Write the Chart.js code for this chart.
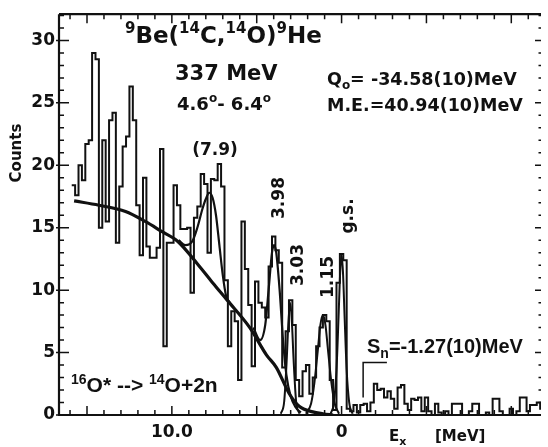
<!DOCTYPE html>
<html>
<head>
<meta charset="utf-8">
<script src="https://cdn.jsdelivr.net/npm/chart.js@4.4.1/dist/chart.umd.min.js"></script>
<style>
  html, body { margin: 0; padding: 0; background: #fff; }
  canvas { display: block; }
</style>
</head>
<body>
<canvas id="spectrum" width="548" height="447"></canvas>
<script>
// histogram: 0.2 MeV bins, first bin starts at Ex = 15.9 MeV, going down
const binStart = 15.9;
const binWidth = 0.2;
const counts = [
  18.4, 17.6, 20.0, 18.8, 21.7, 22.0, 29.0, 28.5, 15.0, 22.0,
  15.5, 23.6, 24.2, 13.8, 18.3, 21.5, 22.3, 26.3, 23.6, 16.8,
  12.8, 19.0, 13.5, 12.6, 12.6, 13.4, 21.3, 5.5, 13.8, 13.8,
  18.4, 16.8, 14.9, 14.9, 15.0, 9.8, 15.8, 16.7, 19.3, 18.5,
  13.0, 18.9, 18.8, 20.1, 18.3, 10.8, 5.5, 8.3, 7.5, 2.8,
  15.5, 11.7, 8.8, 3.9, 10.7, 9.0, 8.6, 7.8, 11.9, 14.3,
  13.2, 12.2, 3.8, 6.7, 9.2, 7.2, 2.8, 1.5, 3.5, 4.0,
  1.7, 3.0, 5.5, 7.0, 8.0, 7.5, 2.8, 0.4, 10.6, 12.9,
  12.4, 0.5, 0.3, 0.8, 0.2, 0.8, 0.9, 0.3, 1.0, 2.5,
  2.0, 2.1, 1.4, 1.9, 1.3, 0.5, 2.2, 2.4, 0.9, 0.4,
  1.3, 1.2, 1.4, 0.3, 1.4, 0.3, 0, 0.9, 0.2, 0,
  0.3, 0, 0.9, 0.9, 0.9, 0, 0, 0.3, 0.9, 0.9,
  0, 0, 0.2, 0, 1.3, 1.3, 0.3, 0, 0, 0.5,
  0, 0.3, 1.4, 1.4, 0.3, 0.8, 0.8, 1.0, 0.5
];

// 16O* -> 14O+2n background
const bgEx = [15.76, 14.3, 12.73, 11.57, 10.6, 9.65, 8.49, 7.6, 6.74, 5.41, 4.42, 3.84, 3.08, 2.5, 1.7, 1.1, 0.5];
const bgY = [17.15, 16.8, 16.3, 15.5, 14.7, 13.9, 12.1, 10.6, 9.2, 7.0, 4.8, 3.8, 1.7, 0.7, 0.25, 0.1, 0];

// fitted peaks
const fit79Ex = [9.6, 9.2, 8.8, 8.5, 8.2, 8.0, 7.8, 7.6, 7.4, 7.2, 7.0, 6.8, 6.6];
const fit79Y = [14.0, 13.6, 13.9, 15.0, 16.5, 17.3, 17.8, 17.4, 16.0, 13.6, 11.2, 9.5, 9.0];
const fit398Ex = [5.2, 4.8, 4.5, 4.3, 4.1, 3.98, 3.85, 3.65, 3.45, 3.25, 3.0, 2.7, 2.4];
const fit398Y = [7.0, 6.0, 7.2, 10.0, 13.0, 13.6, 13.0, 10.0, 6.0, 3.2, 1.5, 0.6, 0.2];
const fit303Ex = [3.58, 3.38, 3.23, 3.13, 3.03, 2.93, 2.83, 2.68, 2.48];
const fit303Y = [0.1, 1.1, 4.5, 7.5, 9.0, 7.5, 4.5, 1.1, 0.1];
const fit115Ex = [2.1, 1.8, 1.6, 1.4, 1.25, 1.1, 0.95, 0.8, 0.6, 0.4, 0.15];
const fit115Y = [0.1, 0.9, 2.6, 5.2, 7.2, 8.0, 7.2, 5.2, 2.6, 0.9, 0.1];
const fitGsEx = [0.65, 0.45, 0.3, 0.18, 0.08, 0, -0.08, -0.18, -0.3, -0.45, -0.65];
const fitGsY = [0.1, 1.0, 3.6, 7.8, 11.5, 12.8, 11.5, 7.8, 3.6, 1.0, 0.1];

const xLabels = { 10: '10.0', 0: '0' };
const yTicks = [0, 5, 10, 15, 20, 25, 30];
const snValue = -1.27;

const ink = '#111';
const bold = (size, family) => `bold ${size}px ${family || '"DejaVu Sans"'}`;

const histPoints = counts.map((c, i) => ({ x: binStart - i * binWidth, y: c }));
histPoints.push({ x: binStart - counts.length * binWidth, y: counts[counts.length - 1] });

const toPoints = (xs, ys) => xs.map((x, i) => ({ x, y: ys[i] }));
const curve = (xs, ys, width) => ({
  data: toPoints(xs, ys),
  borderColor: ink,
  borderWidth: width,
  pointRadius: 0,
  cubicInterpolationMode: 'monotone',
  fill: false
});

function drawParts(ctx, x, y, parts) {
  let cx = x;
  parts.forEach(([text, font, dy]) => {
    ctx.font = font;
    ctx.fillText(text, cx, y + (dy || 0));
    cx += ctx.measureText(text).width;
  });
}

function rotated(ctx, text, x, y, font) {
  ctx.save();
  ctx.translate(x, y);
  ctx.rotate(-Math.PI / 2);
  ctx.font = font;
  ctx.textAlign = 'center';
  ctx.textBaseline = 'middle';
  ctx.fillText(text, 0, 0);
  ctx.restore();
}

const framePlugin = {
  id: 'frame',
  afterDatasetsDraw(chart) {
    const { ctx, chartArea: a, scales: { x, y } } = chart;
    ctx.save();
    ctx.strokeStyle = ink;
    ctx.lineWidth = 2.2;
    ctx.beginPath();
    ctx.moveTo(a.left, a.top);
    ctx.lineTo(a.right, a.top);
    ctx.moveTo(a.left, a.top);
    ctx.lineTo(a.left, a.bottom);
    ctx.lineTo(a.right, a.bottom);
    ctx.stroke();

    ctx.lineWidth = 1.5;
    ctx.beginPath();
    for (let v = Math.ceil(x.min); v <= Math.floor(x.max); v++) {
      const px = x.getPixelForValue(v);
      const len = v % 5 === 0 ? 9 : 5;
      ctx.moveTo(px, a.bottom);
      ctx.lineTo(px, a.bottom - len);
      ctx.moveTo(px, a.top);
      ctx.lineTo(px, a.top + len);
    }
    for (let v = 0; v <= Math.floor(y.max); v++) {
      const py = y.getPixelForValue(v);
      const major = v % 5 === 0;
      ctx.moveTo(a.left - (major ? 3 : 0), py);
      ctx.lineTo(a.left + (major ? 10 : 5), py);
      ctx.moveTo(a.right, py);
      ctx.lineTo(a.right - (major ? 6 : 2.5), py);
    }
    ctx.stroke();

    // S_n threshold marker
    const sx = x.getPixelForValue(snValue);
    ctx.lineWidth = 1.5;
    ctx.beginPath();
    ctx.moveTo(sx, y.getPixelForValue(1.4));
    ctx.lineTo(sx, y.getPixelForValue(4.2));
    ctx.lineTo(x.getPixelForValue(-2.67), y.getPixelForValue(4.2));
    ctx.stroke();
    ctx.restore();
  },
  afterDraw(chart) {
    const { ctx } = chart;
    ctx.save();
    ctx.fillStyle = ink;
    ctx.textBaseline = 'alphabetic';

    const big = bold(23);
    const sup = bold(15);
    drawParts(ctx, 125, 43, [
      ['9', sup, -10], ['Be(', big], ['14', sup, -10], ['C,', big],
      ['14', sup, -10], ['O)', big], ['9', sup, -10], ['He', big]
    ]);
    drawParts(ctx, 175, 80, [['337 MeV', bold(21)]]);
    drawParts(ctx, 177, 110, [
      ['4.6', bold(18)], ['o', bold(12), -8], ['- 6.4', bold(18)], ['o', bold(12), -8]
    ]);
    drawParts(ctx, 327, 85, [
      ['Q', bold(17.5)], ['o', bold(12), 4], ['= -34.58(10)MeV', bold(17.5)]
    ]);
    drawParts(ctx, 327, 111, [['M.E.=40.94(10)MeV', bold(17.5)]]);

    ctx.textAlign = 'center';
    drawParts(ctx, 215, 155, [['(7.9)', bold(17)]]);
    ctx.textAlign = 'left';

    rotated(ctx, '3.98', 279.5, 198, bold(17));
    rotated(ctx, '3.03', 299, 265, bold(17));
    rotated(ctx, '1.15', 329, 277, bold(17));
    rotated(ctx, 'g.s.', 349, 216, bold(17));

    const arial = '"Liberation Sans", Arial';
    drawParts(ctx, 367, 353, [
      ['S', bold(20, arial)], ['n', bold(14, arial), 5], ['=-1.27(10)MeV', bold(20, arial)]
    ]);
    drawParts(ctx, 71, 392, [
      ['16', bold(14, arial), -8], ['O* --> ', bold(21, arial)],
      ['14', bold(14, arial), -8], ['O+2n', bold(21, arial)]
    ]);

    drawParts(ctx, 389, 441, [['E', bold(15)], ['x', bold(11), 4]]);
    drawParts(ctx, 435, 441, [['[MeV]', bold(15)]]);
    rotated(ctx, 'Counts', 17, 153, bold(15));
    ctx.restore();
  }
};

new Chart(document.getElementById('spectrum'), {
  type: 'line',
  data: {
    datasets: [
      {
        data: histPoints,
        stepped: 'before',
        borderColor: ink,
        borderWidth: 2,
        pointRadius: 0,
        fill: false
      },
      curve(bgEx, bgY, 3.2),
      curve(fit79Ex, fit79Y, 2.2),
      curve(fit398Ex, fit398Y, 2.2),
      curve(fit303Ex, fit303Y, 2),
      curve(fit115Ex, fit115Y, 2),
      curve(fitGsEx, fitGsY, 2)
    ]
  },
  options: {
    responsive: false,
    animation: false,
    layout: { padding: { top: 7, right: 0, left: 0, bottom: 0 } },
    plugins: {
      legend: { display: false },
      tooltip: { enabled: false }
    },
    scales: {
      x: {
        type: 'linear',
        reverse: true,
        min: -11.75,
        max: 16.65,
        afterFit: (scale) => { scale.height = 32; },
        grid: { display: false, drawTicks: false },
        border: { display: false },
        ticks: {
          stepSize: 1,
          autoSkip: false,
          maxRotation: 0,
          padding: 7,
          color: ink,
          font: { family: '"DejaVu Sans"', weight: 'bold', size: 17 },
          callback: (v) => xLabels[v] || ''
        }
      },
      y: {
        min: 0,
        max: 32.1,
        afterFit: (scale) => { scale.width = 59; },
        grid: { display: false, drawTicks: false },
        border: { display: false },
        ticks: {
          stepSize: 5,
          padding: 4,
          color: ink,
          font: { family: '"DejaVu Sans"', weight: 'bold', size: 17 },
          callback: (v) => (yTicks.includes(v) ? String(v) : '')
        }
      }
    }
  },
  plugins: [framePlugin]
});
</script>
</body>
</html>
